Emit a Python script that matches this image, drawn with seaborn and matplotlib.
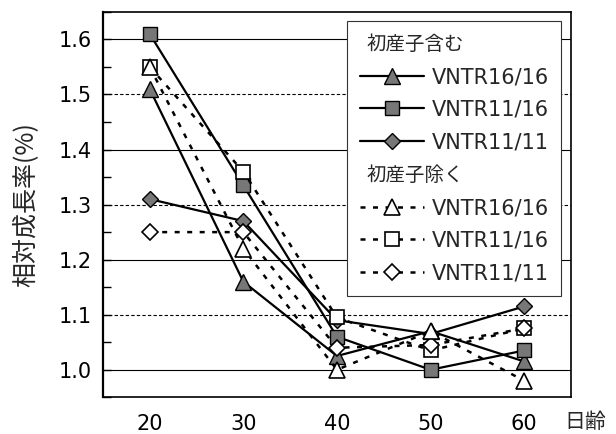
import numpy as np
import pandas as pd
import seaborn as sns
import matplotlib.pyplot as plt
from matplotlib.lines import Line2D
from matplotlib.ticker import MultipleLocator, FuncFormatter

days = [20, 30, 40, 50, 60]

# 初産子含む (filled markers, solid lines)
inc_16_16 = [1.51, 1.16, 1.025, 1.07, 1.015]
inc_11_16 = [1.61, 1.335, 1.06, 1.00, 1.035]
inc_11_11 = [1.31, 1.27, 1.09, 1.065, 1.115]

# 初産子除く (open markers, dashed lines)
exc_16_16 = [1.55, 1.22, 1.00, 1.07, 0.98]
exc_11_16 = [1.55, 1.36, 1.095, 1.035, 1.075]
exc_11_11 = [1.25, 1.25, 1.04, 1.045, 1.075]

series_labels = ['VNTR16/16', 'VNTR11/16', 'VNTR11/11']
group_labels = ['初産子含む', '初産子除く']
y_ticks = [1.0, 1.1, 1.2, 1.3, 1.4, 1.5, 1.6]

markers = {'VNTR16/16': ('^', 11), 'VNTR11/16': ('s', 9.5), 'VNTR11/11': ('D', 8.5)}
fill_grey = '#777777'
dash = (0, (2, 3))

sns.set_style('white')
plt.rcParams['font.family'] = ['DejaVu Sans', 'Noto Sans CJK JP']
jp = ['Noto Sans CJK JP', 'DejaVu Sans']

fig = plt.figure(figsize=(6.16, 4.34), dpi=100)
ax = fig.add_axes([0.167, 0.0846, 0.76, 0.888])

# gridlines: solid on even tenths, dashed on odd
for i, yv in enumerate(y_ticks):
    ax.axhline(yv, color='black', lw=0.8, ls='-' if i % 2 == 0 else (0, (3, 2)), zorder=1)

inc = dict(zip(series_labels, [inc_16_16, inc_11_16, inc_11_11]))
exc = dict(zip(series_labels, [exc_16_16, exc_11_16, exc_11_11]))

for lab in series_labels:
    m, ms = markers[lab]
    sns.lineplot(x=days, y=inc[lab], ax=ax, color='black', lw=1.6,
                 marker=m, markersize=ms, markerfacecolor=fill_grey,
                 markeredgecolor='black', markeredgewidth=1.0,
                 legend=False, zorder=3)

for lab in ['VNTR11/16', 'VNTR11/11', 'VNTR16/16']:
    m, ms = markers[lab]
    sns.lineplot(x=days, y=exc[lab], ax=ax, color='black', lw=1.8,
                 linestyle=dash, marker=m, markersize=ms,
                 markerfacecolor='white', markeredgecolor='black',
                 markeredgewidth=1.2, legend=False, zorder=4)

ax.set_xlim(15, 65)
ax.set_ylim(0.95, 1.65)
ax.set_xticks(days)
ax.set_yticks(y_ticks)
ax.yaxis.set_minor_locator(MultipleLocator(0.05))
ax.yaxis.set_major_formatter(FuncFormatter(lambda v, p: f'{v:.1f}'))
ax.tick_params(axis='y', which='both', direction='in', length=6, width=1,
               left=True, right=False, labelsize=15, pad=8, colors='black')
ax.tick_params(axis='x', length=0, labelsize=15, pad=12, colors='black')
for sp in ax.spines.values():
    sp.set_color('black')
    sp.set_linewidth(1.2)
ax.spines['left'].set_linewidth(1.6)

ax.set_ylabel('相対成長率(%)', fontsize=18, family=jp)
ax.yaxis.set_label_coords(-0.165, 0.5)
ax.yaxis.label.set_va('center')
ax.set_xlabel('日齢', fontsize=15, family=jp)
ax.xaxis.set_label_coords(1.03, -0.065)
ax.xaxis.label.set_va('center')

# legend with group headers
blank = Line2D([], [], linestyle='none')
handles = [blank]
texts = [group_labels[0]]
for lab in series_labels:
    m, ms = markers[lab]
    handles.append(Line2D([], [], color='black', lw=1.6, marker=m, markersize=ms,
                          markerfacecolor=fill_grey, markeredgecolor='black'))
    texts.append(lab)
handles.append(blank)
texts.append(group_labels[1])
for lab in series_labels:
    m, ms = markers[lab]
    handles.append(Line2D([], [], color='black', lw=1.8, linestyle=dash, marker=m,
                          markersize=ms, markerfacecolor='white',
                          markeredgecolor='black', markeredgewidth=1.2))
    texts.append(lab)

leg = ax.legend(handles, texts, loc='upper right', bbox_to_anchor=(0.979, 0.976),
                borderaxespad=0, fontsize=15, frameon=True, fancybox=False,
                framealpha=1, edgecolor='#333333', handlelength=3.1,
                handletextpad=0.35, labelspacing=0.6, borderpad=0.6)
leg.get_frame().set_linewidth(0.8)
leg.set_zorder(6)
rows = leg._legend_handle_box.get_children()[0].get_children()
for i in (0, 4):
    rows[i].get_children()[0].width = 0
    leg.get_texts()[i].set_fontsize(14)
    leg.get_texts()[i].set_family(jp)

fig.savefig('out.png', dpi=100)
